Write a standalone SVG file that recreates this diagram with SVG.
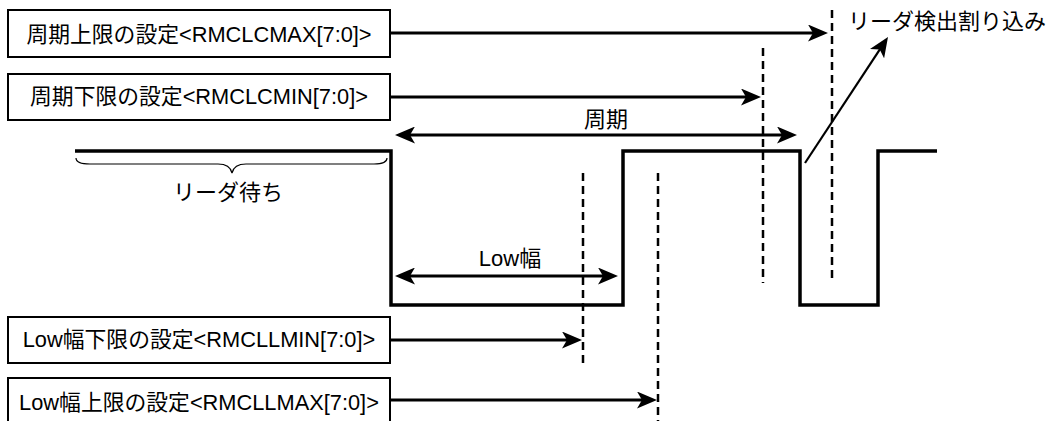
<svg xmlns="http://www.w3.org/2000/svg" width="1052" height="421" viewBox="0 0 1052 421">
<style>
.box{fill:#fff;stroke:#000;stroke-width:2}
.bt{font-family:"Liberation Sans","Noto Sans CJK JP",sans-serif;font-size:21.8px;fill:#000;text-anchor:middle}
.lb{font-family:"Liberation Sans","Noto Sans CJK JP",sans-serif;font-size:22px;fill:#000;text-anchor:middle}
.arr{stroke:#000;stroke-width:3;fill:none}
.dash{stroke:#000;stroke-width:2.5;stroke-dasharray:8,5;fill:none}
.wave{stroke:#000;stroke-width:3.5;fill:none;stroke-linejoin:miter}
</style>
<defs>
<marker id="ah" viewBox="0 0 20 17" refX="10" refY="8.5" markerWidth="20" markerHeight="17" markerUnits="userSpaceOnUse" orient="auto-start-reverse">
<path d="M0,0 L20,8.5 L0,17 L5,8.5 Z" fill="#000"/>
</marker>
</defs>
<rect width="1052" height="421" fill="#fff"/>
<g id="waveform">
<polyline class="wave" points="75,151 391,151 391,305 623,305 623,151 800,151 800,305 878,305 878,151 937,151"/>
<path d="M76,158 Q76,164 90,164 L218,164 Q230,164 232,173 Q234,164 246,164 L374,164 Q387,164 387,158" fill="none" stroke="#000" stroke-width="1.2"/>
<text class="lb" x="228" y="200">リーダ待ち</text>
</g>
<g id="guides">
<line class="dash" x1="832" y1="10" x2="832" y2="283"/>
<line class="dash" x1="763" y1="48" x2="763" y2="283"/>
<line class="dash" x1="583" y1="173" x2="583" y2="364"/>
<line class="dash" x1="658" y1="173" x2="658" y2="421"/>
</g>
<g id="box-clcmax">
<rect class="box" x="8" y="10" width="382" height="47"/>
<text class="bt" x="199" y="42">周期上限の設定&lt;RMCLCMAX[7:0]&gt;</text>
</g>
<g id="box-clcmin">
<rect class="box" x="8" y="74" width="382" height="46"/>
<text class="bt" x="199" y="104">周期下限の設定&lt;RMCLCMIN[7:0]&gt;</text>
</g>
<g id="box-cllmin">
<rect class="box" x="8" y="317" width="382" height="46"/>
<text class="bt" x="199" y="347">Low幅下限の設定&lt;RMCLLMIN[7:0]&gt;</text>
</g>
<g id="box-cllmax">
<rect class="box" x="8" y="378" width="382" height="50"/>
<text class="bt" x="199" y="410">Low幅上限の設定&lt;RMCLLMAX[7:0]&gt;</text>
</g>
<g id="label-period"><text class="lb" x="606" y="127">周期</text></g>
<g id="label-low"><text class="lb" x="510" y="266">Low幅</text></g>
<g id="label-int"><text class="lb" x="947" y="29">リーダ検出割り込み</text></g>
<g id="connectors">
<line class="arr" x1="390" y1="33" x2="818" y2="33" marker-end="url(#ah)"/>
<line class="arr" x1="390" y1="97" x2="751" y2="97" marker-end="url(#ah)"/>
<line class="arr" x1="405" y1="135" x2="787" y2="135" marker-start="url(#ah)" marker-end="url(#ah)"/>
<line class="arr" x1="405" y1="276" x2="608" y2="276" marker-start="url(#ah)" marker-end="url(#ah)"/>
<line class="arr" x1="390" y1="340" x2="572" y2="340" marker-end="url(#ah)"/>
<line class="arr" x1="390" y1="400" x2="647" y2="400" marker-end="url(#ah)"/>
<line stroke="#000" stroke-width="2.2" x1="805" y1="163" x2="882.5" y2="45.3" marker-end="url(#ah)"/>
</g>
</svg>
